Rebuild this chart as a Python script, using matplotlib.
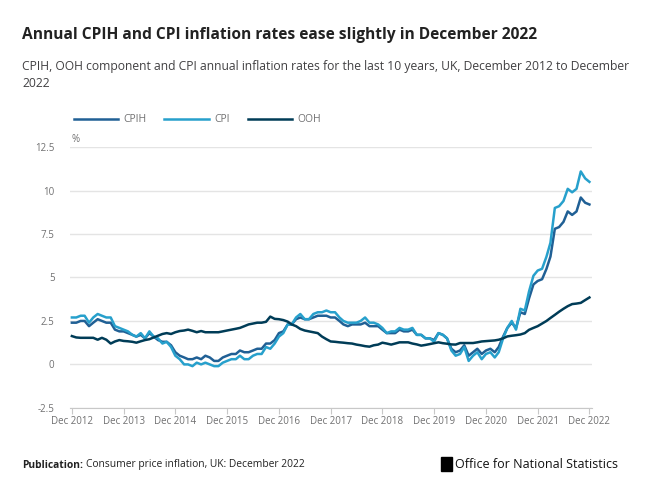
import numpy as np
import pandas as pd
import matplotlib
matplotlib.use("Agg")
import matplotlib.pyplot as plt
import matplotlib.dates as mdates
from matplotlib.patches import Rectangle

plt.rcParams["font.family"] = ["Open Sans", "DejaVu Sans"]

# monthly annual rates, Dec 2012 .. Dec 2022 (121 values)
months = pd.date_range("2012-12-01", "2022-12-01", freq="MS")

cpih = [2.4,
        2.4, 2.5, 2.5, 2.2, 2.4, 2.6, 2.5, 2.4, 2.4, 2.0, 1.9, 1.9,
        1.8, 1.7, 1.6, 1.7, 1.5, 1.8, 1.6, 1.4, 1.3, 1.3, 1.1, 0.7,
        0.5, 0.4, 0.3, 0.3, 0.4, 0.3, 0.5, 0.4, 0.2, 0.2, 0.4, 0.5,
        0.6, 0.6, 0.8, 0.7, 0.7, 0.8, 0.9, 0.9, 1.2, 1.2, 1.4, 1.8,
        1.9, 2.3, 2.3, 2.6, 2.7, 2.6, 2.6, 2.7, 2.8, 2.8, 2.8, 2.7,
        2.7, 2.5, 2.3, 2.2, 2.3, 2.3, 2.3, 2.4, 2.2, 2.2, 2.2, 2.0,
        1.8, 1.8, 1.8, 2.0, 1.9, 1.9, 2.0, 1.7, 1.7, 1.5, 1.5, 1.4,
        1.8, 1.7, 1.5, 0.9, 0.7, 0.8, 1.1, 0.5, 0.7, 0.9, 0.6, 0.8,
        0.9, 0.7, 1.0, 1.6, 2.1, 2.4, 2.1, 3.0, 2.9, 3.8, 4.6, 4.8,
        4.9, 5.5, 6.2, 7.8, 7.9, 8.2, 8.8, 8.6, 8.8, 9.6, 9.3, 9.2]

cpi = [2.7,
       2.7, 2.8, 2.8, 2.4, 2.7, 2.9, 2.8, 2.7, 2.7, 2.2, 2.1, 2.0,
       1.9, 1.7, 1.6, 1.8, 1.5, 1.9, 1.6, 1.5, 1.2, 1.3, 1.0, 0.5,
       0.3, 0.0, 0.0, -0.1, 0.1, 0.0, 0.1, 0.0, -0.1, -0.1, 0.1, 0.2,
       0.3, 0.3, 0.5, 0.3, 0.3, 0.5, 0.6, 0.6, 1.0, 0.9, 1.2, 1.6,
       1.8, 2.3, 2.3, 2.7, 2.9, 2.6, 2.6, 2.9, 3.0, 3.0, 3.1, 3.0,
       3.0, 2.7, 2.5, 2.4, 2.4, 2.4, 2.5, 2.7, 2.4, 2.4, 2.3, 2.1,
       1.8, 1.9, 1.9, 2.1, 2.0, 2.0, 2.1, 1.7, 1.7, 1.5, 1.5, 1.3,
       1.8, 1.7, 1.5, 0.8, 0.5, 0.6, 1.0, 0.2, 0.5, 0.7, 0.3, 0.6,
       0.7, 0.4, 0.7, 1.5, 2.1, 2.5, 2.0, 3.2, 3.1, 4.2, 5.1, 5.4,
       5.5, 6.2, 7.0, 9.0, 9.1, 9.4, 10.1, 9.9, 10.1, 11.1, 10.7, 10.5]

ooh = [1.63,
       1.55, 1.53, 1.53, 1.53, 1.53, 1.42, 1.53, 1.42, 1.2, 1.32, 1.4, 1.35,
       1.33, 1.3, 1.25, 1.33, 1.4, 1.45, 1.55, 1.65, 1.75, 1.8, 1.75, 1.85,
       1.92, 1.95, 2.0, 1.93, 1.85, 1.92, 1.85, 1.85, 1.85, 1.85, 1.9, 1.95,
       2.0, 2.05, 2.1, 2.2, 2.3, 2.35, 2.4, 2.4, 2.45, 2.75, 2.62, 2.6,
       2.55, 2.46, 2.3, 2.2, 2.04, 1.95, 1.9, 1.85, 1.8, 1.6, 1.45, 1.32,
       1.3, 1.27, 1.25, 1.22, 1.2, 1.14, 1.1, 1.05, 1.02, 1.1, 1.14, 1.25,
       1.2, 1.14, 1.2, 1.27, 1.27, 1.27, 1.2, 1.15, 1.08, 1.12, 1.17, 1.22,
       1.27, 1.22, 1.19, 1.15, 1.14, 1.23, 1.23, 1.23, 1.23, 1.27, 1.32, 1.34,
       1.36, 1.38, 1.42, 1.5, 1.61, 1.65, 1.68, 1.72, 1.8, 1.99, 2.1, 2.2,
       2.35, 2.5, 2.67, 2.85, 3.03, 3.2, 3.35, 3.47, 3.5, 3.54, 3.7, 3.85]

series = [("CPIH", cpih, "#206095"), ("CPI", cpi, "#27a0cc"), ("OOH", ooh, "#003c57")]
y_ticks = [-2.5, 0, 2.5, 5, 7.5, 10, 12.5]
y_labels = ["-2.5", "0", "2.5", "5", "7.5", "10", "12.5"]

GREY = "#707071"

fig = plt.figure(figsize=(6.58, 4.92), dpi=100)
ax = fig.add_axes([0.106, 0.171, 0.793, 0.530])

for name, vals, col in series:
    ax.plot(months, vals, color=col, lw=1.8, label=name, solid_joinstyle="round")

ax.set_ylim(-2.5, 12.5)
ax.set_yticks(y_ticks)
ax.set_yticklabels(y_labels)
ax.set_xlim(pd.Timestamp("2012-11-16"), pd.Timestamp("2022-12-16"))
ax.xaxis.set_major_locator(mdates.MonthLocator(bymonth=12))
ax.xaxis.set_major_formatter(mdates.DateFormatter("Dec %Y"))

ax.grid(axis="y", color="#e4e4e4", lw=1)
ax.set_axisbelow(True)
for s in ["top", "right", "left"]:
    ax.spines[s].set_visible(False)
ax.spines["bottom"].set_color("#c8c8c8")
ax.tick_params(axis="y", length=0, labelsize=7, labelcolor=GREY, pad=11)
ax.tick_params(axis="x", length=4, color="#c8c8c8", labelsize=7, labelcolor=GREY, pad=2)
ax.text(0.003, 1.01, "%", transform=ax.transAxes, fontsize=7, color=GREY, va="bottom")

fig.legend(loc="center left", bbox_to_anchor=(0.104, 1 - 120 / 492), ncol=3, frameon=False,
           handlelength=4.3, handletextpad=0.5, columnspacing=1.7, borderpad=0,
           fontsize=7.5, labelcolor=GREY)

fig.text(22 / 658, 1 - 35 / 492, "Annual CPIH and CPI inflation rates ease slightly in December 2022",
         fontsize=11.2, fontweight="bold", color="#222222", va="center")
fig.text(22 / 658, 1 - 75 / 492,
         "CPIH, OOH component and CPI annual inflation rates for the last 10 years, UK, December 2012 to December\n2022",
         fontsize=8.7, color="#414042", va="center", linespacing=1.4)

pub = fig.text(22 / 658, 1 - 465 / 492, "Publication:", fontsize=7.4, fontweight="bold",
               color="#222222", va="center")
r = fig.canvas.get_renderer()
x_end = pub.get_window_extent(r).x1 / fig.bbox.width
fig.text(x_end + 3 / 658, 1 - 465 / 492, "Consumer price inflation, UK: December 2022", fontsize=7.4,
         color="#222222", va="center")

fig.patches.append(Rectangle((441 / 658, 1 - 471 / 492), 11 / 658, 14 / 492,
                             transform=fig.transFigure, color="black"))
fig.text(455 / 658, 1 - 464 / 492, "Office for National Statistics", fontsize=9, color="#111111", va="center")

fig.savefig("out.png", dpi=100)
